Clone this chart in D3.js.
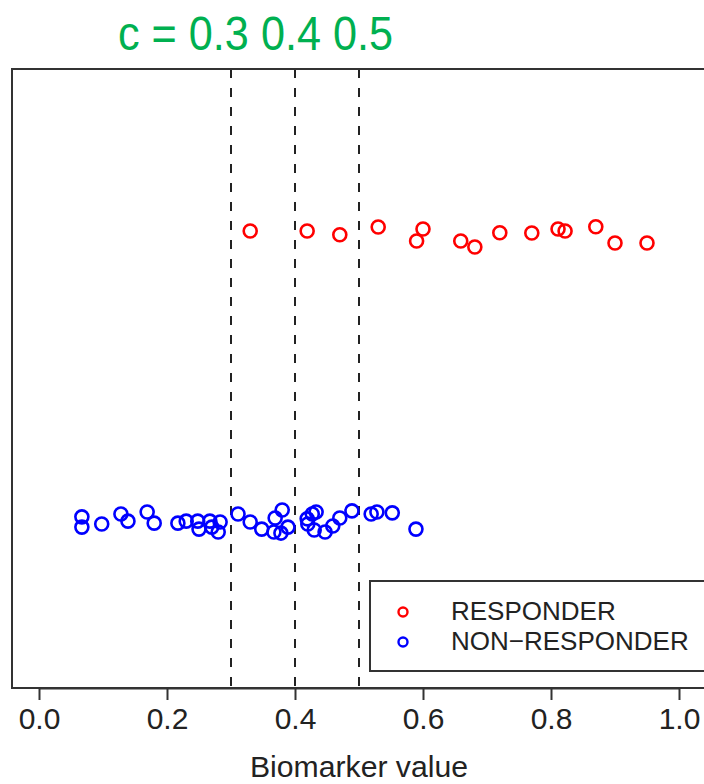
<!DOCTYPE html>
<html>
<head>
<meta charset="utf-8">
<script src="https://cdnjs.cloudflare.com/ajax/libs/d3/7.8.5/d3.min.js"></script>
<style>
  body { margin: 0; background: #fff; }
  text { font-family: "Liberation Sans", Arial, sans-serif; }
</style>
</head>
<body>
<div id="chart"></div>
<script>
// biomarker values, y is the jittered strip position
var respX = [0.330, 0.419, 0.470, 0.530, 0.590, 0.600, 0.659, 0.681, 0.720, 0.770, 0.811, 0.822, 0.870, 0.900, 0.950];
var respY = [2.014, 2.014, 2.001, 2.028, 1.979, 2.021, 1.979, 1.958, 2.008, 2.007, 2.021, 2.014, 2.029, 1.972, 1.972];

var nonX = [0.067, 0.067, 0.098, 0.128, 0.139, 0.169, 0.180, 0.217, 0.230, 0.248, 0.250, 0.267, 0.270, 0.280, 0.283,
            0.311, 0.330, 0.348, 0.369, 0.380, 0.367, 0.378, 0.389, 0.419, 0.427, 0.433, 0.420, 0.430, 0.447, 0.459,
            0.470, 0.489, 0.519, 0.528, 0.552, 0.589];
var nonY = [1.011, 0.975, 0.986, 1.021, 0.996, 1.028, 0.989, 0.989, 0.996, 0.996, 0.968, 0.996, 0.975, 0.958, 0.993,
            1.021, 0.993, 0.968, 1.007, 1.035, 0.958, 0.954, 0.975, 1.004, 1.021, 1.028, 0.986, 0.965, 0.958, 0.979,
            1.007, 1.032, 1.021, 1.028, 1.025, 0.968];

var cutoffs = [0.3, 0.4, 0.5];
var xTicks = [0, 0.2, 0.4, 0.6, 0.8, 1.0];
var legendLabels = ["RESPONDER", "NON\u2212RESPONDER"];
var groupColors = ["#ff0000", "#0000ff"];
var titleText = "c = 0.3 0.4 0.5";
var xLabel = "Biomarker value";

var W = 704, H = 784;
var box = {left: 12, top: 69, right: 730, bottom: 688};

var svg = d3.select("#chart").append("svg")
    .attr("width", W)
    .attr("height", H);

var x = d3.scaleLinear().domain([0, 1]).range([39, 679]);
var y = d3.scaleLinear().domain([0.4105, 2.5825]).range([box.bottom, box.top]);

// title, narrow lettering like the original
svg.append("text")
    .attr("x", 118)
    .attr("y", 50)
    .attr("textLength", 275)
    .attr("lengthAdjust", "spacingAndGlyphs")
    .style("font-size", "49px")
    .style("fill", "#00b050")
    .text(titleText);

// cutoff lines
svg.selectAll(".cut").data(cutoffs).enter().append("line")
    .attr("class", "cut")
    .attr("x1", function(d){return x(d);})
    .attr("x2", function(d){return x(d);})
    .attr("y1", box.top)
    .attr("y2", box.bottom)
    .style("stroke", "#222")
    .style("stroke-width", 2)
    .style("stroke-dasharray", "9,10");

// points
function drawPoints(xs, ys, color) {
    svg.append("g").selectAll("circle").data(xs).enter().append("circle")
        .attr("cx", function(d){return x(d);})
        .attr("cy", function(d, i){return y(ys[i]);})
        .attr("r", 6.5)
        .style("fill", "none")
        .style("stroke", color)
        .style("stroke-width", 2.6);
}
drawPoints(respX, respY, groupColors[0]);
drawPoints(nonX, nonY, groupColors[1]);

// legend
var leg = svg.append("g");
leg.append("rect")
    .attr("x", 370).attr("y", 581)
    .attr("width", 360).attr("height", 90)
    .style("fill", "#fff")
    .style("stroke", "#333")
    .style("stroke-width", 2);
legendLabels.forEach(function(t, i) {
    leg.append("circle")
        .attr("cx", 403).attr("cy", 612 + i * 30)
        .attr("r", 4.5)
        .style("fill", "none")
        .style("stroke", groupColors[i])
        .style("stroke-width", 2.4);
    leg.append("text")
        .attr("x", 451).attr("y", 620 + i * 30)
        .style("font-size", "26px")
        .style("fill", "#222")
        .text(t);
});

// plot frame
svg.append("rect")
    .attr("x", box.left).attr("y", box.top)
    .attr("width", box.right - box.left).attr("height", box.bottom - box.top)
    .style("fill", "none")
    .style("stroke", "#333")
    .style("stroke-width", 2);

// x axis
var axis = svg.append("g")
    .attr("transform", "translate(0," + box.bottom + ")")
    .call(d3.axisBottom(x).tickValues(xTicks).tickSize(12).tickSizeOuter(0).tickPadding(8)
        .tickFormat(d3.format(".1f")));
axis.selectAll("line, path").style("stroke", "#333").style("stroke-width", 2);
axis.selectAll("text")
    .style("font-family", "'Liberation Sans', Arial, sans-serif")
    .style("font-size", "30px")
    .style("fill", "#222");

svg.append("text")
    .attr("x", x(0.5))
    .attr("y", 777)
    .attr("text-anchor", "middle")
    .attr("textLength", 218)
    .attr("lengthAdjust", "spacingAndGlyphs")
    .style("font-size", "30px")
    .style("fill", "#222")
    .text(xLabel);
</script>
</body>
</html>
